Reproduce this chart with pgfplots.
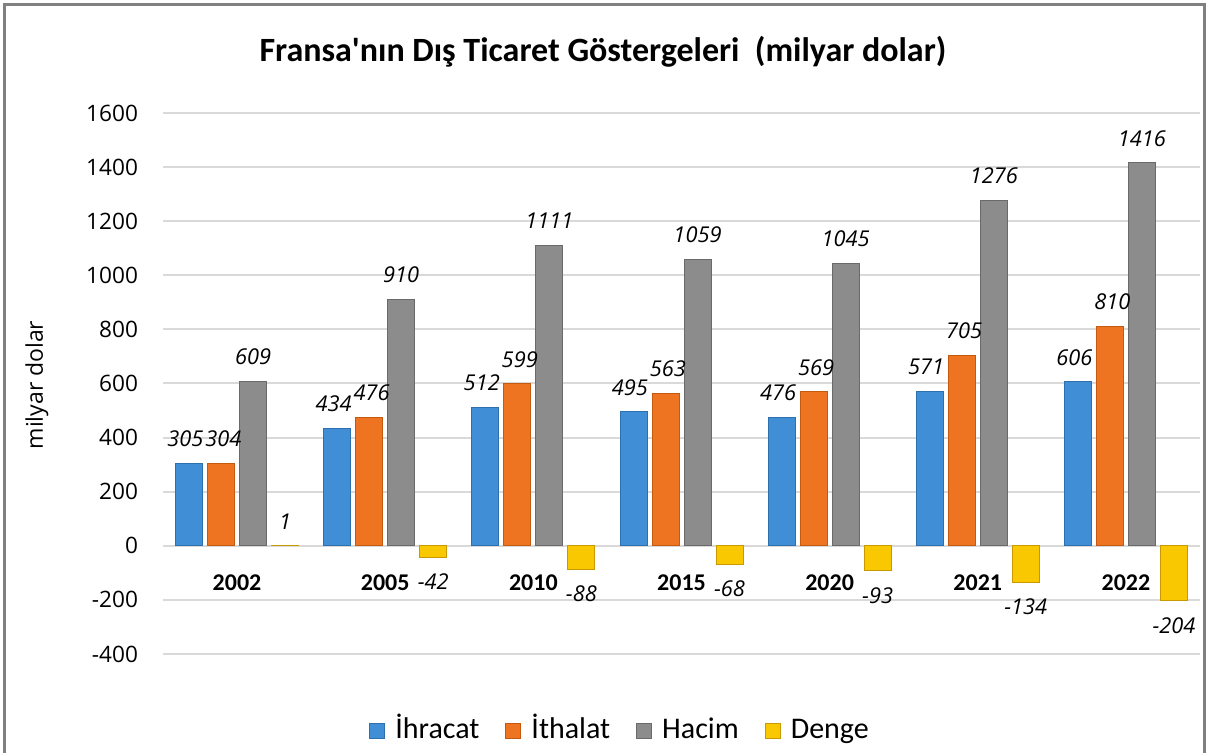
\documentclass[border=0pt]{standalone}
\usepackage{pgfplots}
\pgfplotsset{compat=1.18}
\usepackage{fontspec}
\setmainfont{Carlito}
\newfontfamily\osans{Open Sans}

\definecolor{blueF}{HTML}{3F8ED6}
\definecolor{blueD}{HTML}{2E6FAE}
\definecolor{orF}{HTML}{EE7422}
\definecolor{orD}{HTML}{C35A10}
\definecolor{grF}{HTML}{8C8C8C}
\definecolor{grD}{HTML}{6A6A6A}
\definecolor{yeF}{HTML}{F9C800}
\definecolor{yeD}{HTML}{C99A00}
\definecolor{gridc}{HTML}{D9D9D9}
\definecolor{framec}{HTML}{808080}

% x = category index (0..6)
\pgfplotstableread{
x ihr ith hac den
0 305 304 609 1
1 434 476 910 -42
2 512 599 1111 -88
3 495 563 1059 -68
4 476 569 1045 -93
5 571 705 1276 -134
6 606 810 1416 -204
}\dataset

\begin{document}
\begin{tikzpicture}
% 1 px of the reference = 0.5pt, axis box lower left at px (163,654)
\begin{axis}[
    at={(0,0)}, anchor=south west,
    scale only axis,
    width=518.5pt, height=270.5pt,
    xmin=-0.5, xmax=6.5,
    ymin=-400, ymax=1600,
    ytick={-400,-200,...,1600},
    xtick={0,...,6},
    xticklabels={2002,2005,2010,2015,2020,2021,2022},
    ybar=2.5pt, bar width=13.5pt,
    major tick length=0pt,
    ymajorgrids, grid style={gridc, line width=1pt},
    axis x line*=middle,
    axis y line*=left,
    x axis line style={draw=none},
    y axis line style={draw=none},
    /pgf/number format/assume math mode=true,
    /pgf/number format/1000 sep={},
    yticklabel style={font=\osans\fontsize{11.3}{13}\selectfont, xshift=-9pt},
    xticklabel style={font=\bfseries\fontsize{12}{14}\selectfont, anchor=center, yshift=-18.5pt},
    nodes near coords,
    every node near coord/.append style={font=\osans\itshape\fontsize{10.9}{13}\selectfont, inner ysep=8pt, black},
    legend columns=4,
    legend style={draw=none, fill=none, at={(rel axis cs:0.4417,-0.142)}, anchor=center,
        font=\fontsize{15}{17}\selectfont, column sep=3pt,
        nodes={text height=10.5pt, text depth=3pt},
        /tikz/every even column/.append style={column sep=11pt}},
    legend image code/.code={\draw[#1] (0pt,-3.75pt) rectangle (7.5pt,3.75pt);},
]
\addplot[draw=blueD, line width=0.5pt, fill=blueF,
    every node near coord/.append style={xshift=-1.8pt}] table[x=x, y=ihr] {\dataset};
\addplot[draw=orD, line width=0.5pt, fill=orF,
    every node near coord/.append style={xshift=1.2pt}] table[x=x, y=ith] {\dataset};
\addplot[draw=grD, line width=0.5pt, fill=grF] table[x=x, y=hac] {\dataset};
\addplot[draw=yeD, line width=0.5pt, fill=yeF] table[x=x, y=den] {\dataset};
\legend{İhracat, İthalat, Hacim, Denge}
\end{axis}
% title and y label
\node[font=\bfseries\fontsize{17}{20}\selectfont] at (220pt,301pt) {Fransa\textquotesingle nın Dış Ticaret Göstergeleri\ \ (milyar dolar)};
\node[font=\osans\fontsize{11.5}{13}\selectfont, rotate=90] at (-63pt,134.5pt) {milyar dolar};
% frame
\draw[framec, line width=1.5pt] (-79pt,-60pt) -- (-79pt,324.5pt) -- (520.5pt,324.5pt) -- (520.5pt,-60pt);
\pgfresetboundingbox
\useasboundingbox (-81.5pt,-49.5pt) rectangle (522.5pt,327pt);
\end{tikzpicture}
\end{document}
